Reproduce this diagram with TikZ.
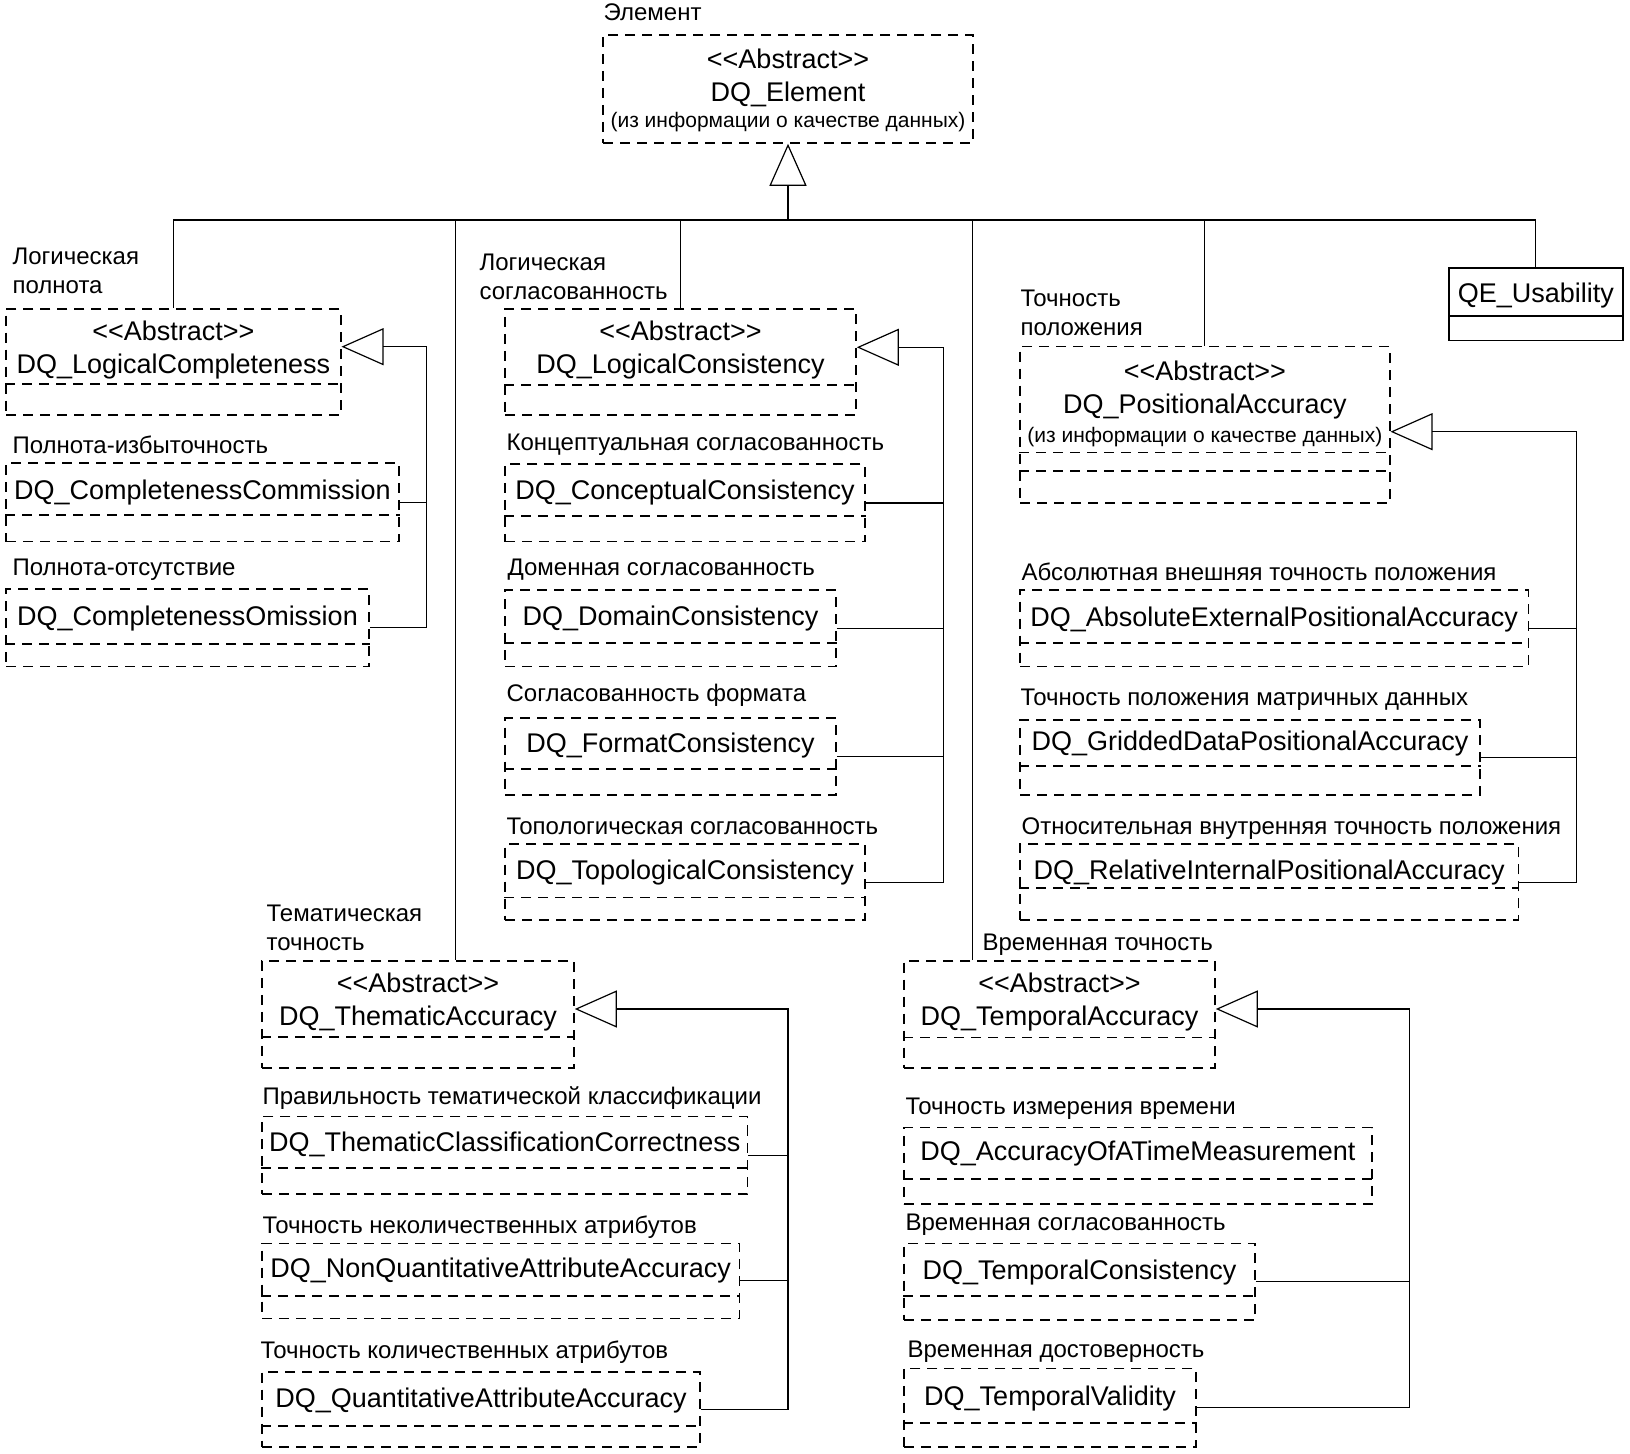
\documentclass[tikz,border=0pt]{standalone}
\usepackage{fontspec}
\setmainfont{Liberation Sans}
\usetikzlibrary{calc}
\usetikzlibrary{positioning}
\usetikzlibrary{fit}
\usetikzlibrary{arrows.meta}
\tikzset{every picture/.style={line width=0.6pt}}

\begin{document}
\begin{tikzpicture}[x=0.5pt,y=-0.5pt,
  cls/.style={draw, line width=0.8pt, dash pattern=on 5pt off 3.5pt, inner sep=0pt},
  sep/.style={line width=0.8pt, dash pattern=on 5pt off 3.5pt},
  nm/.style={font=\fontsize{13.5}{16.5}\selectfont, align=center, inner sep=0pt},
  lbl/.style={font=\fontsize{12}{14.2}\selectfont, align=left, anchor=west, inner sep=0pt},
  gen/.style={-{Triangle[open,length=21pt,width=18.5pt]}}]
\useasboundingbox (0,0) rectangle (1630,1454);

% root
\node (el) [cls, fit={(603,35) (973,143)}] {};
\node (el-t) [nm] at ($(el.north)+(0,56)$) {<\kern0pt<Abstract>\kern0pt>\\DQ\_Element\\[-3.5pt]{\fontsize{10.5}{12}\selectfont (из информации о качестве данных)}};
\node (el-l) [lbl] at (603,12.5) {Элемент};

% logical completeness
\node (lc) [cls, fit={(6,309) (340.7,415)}] {};
\draw[sep] ($(lc.north west)+(0,76)$) -- ($(lc.north east)+(0,76)$);
\node (lc-t) [nm] at ($(lc.north)+(0,42)$) {<\kern0pt<Abstract>\kern0pt>\\DQ\_LogicalCompleteness};
\node (lc-l) [lbl] at (12,270.8) {Логическая\\полнота};
\node (cc) [cls, fit={(6,463) (399,541.7)}] {};
\draw[sep] ($(cc.north west)+(0,53)$) -- ($(cc.north east)+(0,53)$);
\node (cc-t) [nm] at ($(cc.north)+(0,30)$) {DQ\_CompletenessCommission};
\node (cc-l) [lbl] at (12,445) {Полнота-избыточность};
\node (co) [cls, fit={(6,589) (369,666.7)}] {};
\draw[sep] ($(co.north west)+(0,56)$) -- ($(co.north east)+(0,56)$);
\node (co-t) [nm] at ($(co.north)+(0,30.5)$) {DQ\_CompletenessOmission};
\node (co-l) [lbl] at (12,570) {Полнота-отсутствие};

% logical consistency
\node (lcs) [cls, fit={(505,309) (856,415)}] {};
\draw[sep] ($(lcs.north west)+(0,76.7)$) -- ($(lcs.north east)+(0,76.7)$);
\node (lcs-t) [nm] at ($(lcs.north)+(0,42)$) {<\kern0pt<Abstract>\kern0pt>\\DQ\_LogicalConsistency};
\node (lcs-l) [lbl] at (479,277) {Логическая\\согласованность};
\node (ccs) [cls, fit={(505,464.3) (865,541.7)}] {};
\draw[sep] ($(ccs.north west)+(0,52.4)$) -- ($(ccs.north east)+(0,52.4)$);
\node (ccs-t) [nm] at ($(ccs.north)+(0,28.7)$) {DQ\_ConceptualConsistency};
\node (ccs-l) [lbl] at (506,445) {Концептуальная согласованность};
\node (dc) [cls, fit={(505,590) (836,666.7)}] {};
\draw[sep] ($(dc.north west)+(0,54)$) -- ($(dc.north east)+(0,54)$);
\node (dc-t) [nm] at ($(dc.north)+(0,29.7)$) {DQ\_DomainConsistency};
\node (dc-l) [lbl] at (507,569.3) {Доменная согласованность};
\node (fc) [cls, fit={(505,718.3) (836,795)}] {};
\draw[sep] ($(fc.north west)+(0,51.7)$) -- ($(fc.north east)+(0,51.7)$);
\node (fc-t) [nm] at ($(fc.north)+(0,28)$) {DQ\_FormatConsistency};
\node (fc-l) [lbl] at (506,695) {Согласованность формата};
\node (tc) [cls, fit={(505,844.3) (865,920)}] {};
\draw[sep] ($(tc.north west)+(0,54)$) -- ($(tc.north east)+(0,54)$);
\node (tc-t) [nm] at ($(tc.north)+(0,28.7)$) {DQ\_TopologicalConsistency};
\node (tc-l) [lbl] at (506,826.7) {Топологическая согласованность};

% positional accuracy
\node (pa) [cls, fit={(1020,346.7) (1389.7,503.3)}] {};
\draw[sep] ($(pa.north west)+(0,106.6)$) -- ($(pa.north east)+(0,106.6)$);
\draw[sep] ($(pa.north west)+(0,125)$) -- ($(pa.north east)+(0,125)$);
\node (pa-t) [nm] at ($(pa.north)+(0,58)$) {<\kern0pt<Abstract>\kern0pt>\\DQ\_PositionalAccuracy\\[-2pt]{\fontsize{10.5}{12}\selectfont (из информации о качестве данных)}};
\node (pa-l) [lbl] at (1020,313) {Точность\\положения};
\node (aepa) [cls, fit={(1020,590) (1528.3,666.7)}] {};
\draw[sep] ($(aepa.north west)+(0,54)$) -- ($(aepa.north east)+(0,54)$);
\node (aepa-t) [nm] at ($(aepa.north)+(0,30)$) {DQ\_AbsoluteExternalPositionalAccuracy};
\node (aepa-l) [lbl] at (1021,571.7) {Абсолютная внешняя точность положения};
\node (gdpa) [cls, fit={(1020,720) (1480,795)}] {};
\draw[sep] ($(gdpa.north west)+(0,47)$) -- ($(gdpa.north east)+(0,47)$);
\node (gdpa-t) [nm] at ($(gdpa.north)+(0,24.7)$) {DQ\_GriddedDataPositionalAccuracy};
\node (gdpa-l) [lbl] at (1020,700) {Точность положения матричных данных};
\node (ripa) [cls, fit={(1020,844.3) (1518.3,920)}] {};
\draw[sep] ($(ripa.north west)+(0,44.7)$) -- ($(ripa.north east)+(0,44.7)$);
\node (ripa-t) [nm] at ($(ripa.north)+(0,28.7)$) {DQ\_RelativeInternalPositionalAccuracy};
\node (ripa-l) [lbl] at (1021,828.3) {Относительная внутренняя точность положения};

% usability
\node (qe) [draw, line width=0.8pt, inner sep=0pt, fit={(1449,268.3) (1622.7,340.7)}] {};
\draw[line width=0.8pt] ($(qe.north west)+(0,48.4)$) -- ($(qe.north east)+(0,48.4)$);
\node (qe-t) [nm] at ($(qe.north)+(0,28)$) {QE\_Usability};

% thematic accuracy
\node (ta) [cls, fit={(262,961) (574,1068)}] {};
\draw[sep] ($(ta.north west)+(0,77)$) -- ($(ta.north east)+(0,77)$);
\node (ta-t) [nm] at ($(ta.north)+(0,42)$) {<\kern0pt<Abstract>\kern0pt>\\DQ\_ThematicAccuracy};
\node (ta-l) [lbl] at (266,927.7) {Тематическая\\точность};
\node (tcc) [cls, fit={(262,1116.7) (747.5,1194)}] {};
\draw[sep] ($(tcc.north west)+(0,52.3)$) -- ($(tcc.north east)+(0,52.3)$);
\node (tcc-t) [nm] at ($(tcc.north)+(0,29)$) {DQ\_ThematicClassificationCorrectness};
\node (tcc-l) [lbl] at (262,1098) {Правильность тематической классификации};
\node (nqaa) [cls, fit={(262,1243.3) (739.3,1318.3)}] {};
\draw[sep] ($(nqaa.north west)+(0,53.4)$) -- ($(nqaa.north east)+(0,53.4)$);
\node (nqaa-t) [nm] at ($(nqaa.north)+(0,28)$) {DQ\_NonQuantitativeAttributeAccuracy};
\node (nqaa-l) [lbl] at (262,1226.7) {Точность неколичественных атрибутов};
\node (qaa) [cls, fit={(262,1371.7) (700,1446.7)}] {};
\draw[sep] ($(qaa.north west)+(0,55)$) -- ($(qaa.north east)+(0,55)$);
\node (qaa-t) [nm] at ($(qaa.north)+(0,29.6)$) {DQ\_QuantitativeAttributeAccuracy};
\node (qaa-l) [lbl] at (260,1351.7) {Точность количественных атрибутов};

% temporal accuracy
\node (tma) [cls, fit={(904,961) (1215,1068.3)}] {};
\draw[sep] ($(tma.north west)+(0,77.3)$) -- ($(tma.north east)+(0,77.3)$);
\node (tma-t) [nm] at ($(tma.north)+(0,42)$) {<\kern0pt<Abstract>\kern0pt>\\DQ\_TemporalAccuracy};
\node (tma-l) [lbl] at (982,945) {Временная точность};
\node (aotm) [cls, fit={(904,1127.7) (1371.7,1204)}] {};
\draw[sep] ($(aotm.north west)+(0,52.3)$) -- ($(aotm.north east)+(0,52.3)$);
\node (aotm-t) [nm] at ($(aotm.north)+(0,27)$) {DQ\_AccuracyOfATimeMeasurement};
\node (aotm-l) [lbl] at (905,1108.3) {Точность измерения времени};
\node (tcs) [cls, fit={(904,1243.3) (1255,1320)}] {};
\draw[sep] ($(tcs.north west)+(0,53.4)$) -- ($(tcs.north east)+(0,53.4)$);
\node (tcs-t) [nm] at ($(tcs.north)+(0,29.7)$) {DQ\_TemporalConsistency};
\node (tcs-l) [lbl] at (905,1225) {Временная согласованность};
\node (tv) [cls, fit={(904,1368.3) (1196,1446.7)}] {};
\draw[sep] ($(tv.north west)+(0,55.7)$) -- ($(tv.north east)+(0,55.7)$);
\node (tv-t) [nm] at ($(tv.north)+(0,31.4)$) {DQ\_TemporalValidity};
\node (tv-l) [lbl] at (907,1351.7) {Временная достоверность};

% generalisation to DQ_Element
\coordinate (bus) at (788,220);
\draw[gen] (bus) -- (el.south);
\draw (lc.north) |- (bus);
\draw ($(ta.north west)+(194,0)$) |- (bus);
\draw (lcs.north) |- (bus);
\draw ($(tma.north west)+(69,0)$) |- (bus);
\draw (pa.north) |- (bus);
\draw (qe.north) |- (bus);

% subclass trees
\coordinate (lc-j) at (426.7,346.7);
\draw[gen] (co.east) -| (lc-j) -- (lc.east |- lc-j);
\draw (cc.east) -- (cc.east -| lc-j);

\coordinate (lcs-j) at (943.3,347.3);
\draw[gen] (tc.east) -| (lcs-j) -- (lcs.east |- lcs-j);
\draw (ccs.east) -- (ccs.east -| lcs-j);
\draw (dc.east) -- (dc.east -| lcs-j);
\draw (fc.east) -- (fc.east -| lcs-j);

\coordinate (pa-j) at (1576.7,431.7);
\draw[gen] (ripa.east) -| (pa-j) -- (pa.east |- pa-j);
\draw (aepa.east) -- (aepa.east -| pa-j);
\draw (gdpa.east) -- (gdpa.east -| pa-j);

\coordinate (ta-j) at (788,1009);
\draw[gen] (qaa.east) -| (ta-j) -- (ta.east |- ta-j);
\draw (tcc.east) -- (tcc.east -| ta-j);
\draw (nqaa.east) -- (nqaa.east -| ta-j);

\coordinate (tma-j) at (1409.6,1009);
\draw[gen] (tv.east) -| (tma-j) -- (tma.east |- tma-j);
\draw ($(aotm.east)+(0,-11)$) -- ($(aotm.east)+(0,-11)$ -| tma-j);
\draw (tcs.east) -- (tcs.east -| tma-j);
\end{tikzpicture}
\end{document}
